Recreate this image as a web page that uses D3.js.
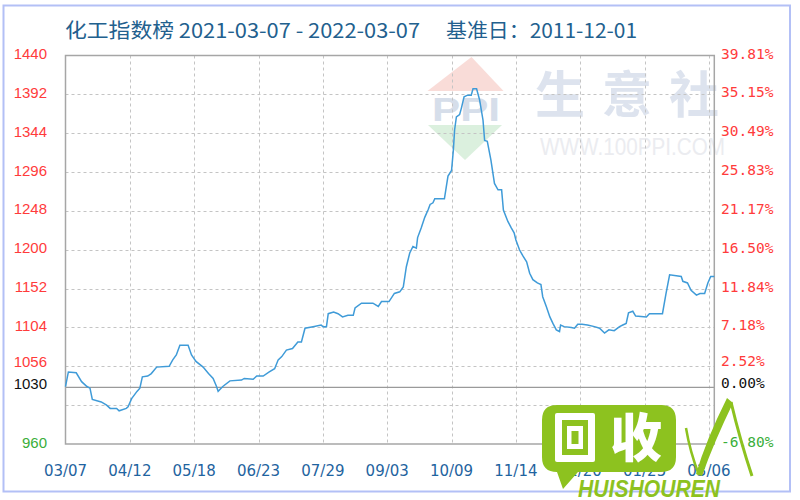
<!DOCTYPE html>
<html><head><meta charset="utf-8">
<script src="https://cdn.jsdelivr.net/npm/d3@7"></script>
<style>body{margin:0;background:#fff}</style>
</head><body>
<svg id="c" width="800" height="500"></svg>
<script>
// ---- data ----
const baseValue = 1030;
const yTickValues = [1440,1392,1344,1296,1248,1200,1152,1104,1056,1030,960];
const yGridValues = [1392,1344,1296,1248,1200,1152,1104,1056,1008];
const xTickDays = [0,36,72,108,144,180,216,252,288,324,360];
const xTickLabels = ["03/07","04/12","05/18","06/23","07/29","09/03","10/09","11/14","12/20","01/25","03/06"];
const days = [0,1.6,6,9,12,13.7,15,20,23,25,28.6,30,34,35,37,40,41.6,43,46,48,51,58,60,62,64,68.6,70.5,73,77,80,82.6,84.5,85.4,88,92,98.5,100,105,107,110.6,114,117,119,121,123.6,127,130,132,134,138.5,143,144,146,147,150,152.5,155,158,161,162,165.6,172,175,176.8,181,184,187,189,190.7,192.6,194.4,196.3,197,199,201,203,204,205.6,206.6,212,213,214,216,217,217.7,218.7,220.5,221.5,223,225,227,228,230,231.7,233.6,234.5,236,238,240,242,244,245,247.5,249.4,251,252,254,256,258,259.7,261.5,264,266,267,269,271,272.7,274.6,276.4,277,279,283,284.8,286.6,289,292,296,298.8,301.6,304,307,310,311.8,313.7,315,317.4,319,325,326.7,334,336,338,341.7,344.5,345.4,348,350,353,355,357.6,359.4,361,363];
const values = [1031,1049,1048,1037,1031,1029,1015,1012,1008,1004,1004,1001,1004,1006,1016,1025,1029,1043,1044,1047,1055,1056,1064,1070,1082,1082,1070,1062,1055,1047,1041,1031,1025,1031,1038,1039,1041,1040,1044,1044,1049,1053,1064,1068,1076,1078,1086,1086,1103,1105,1107,1105,1105,1121,1123,1121,1117,1119,1119,1128,1134,1134,1130,1136,1136,1146,1148,1154,1179,1196,1204,1202,1215,1227,1240,1250,1256,1258,1263,1263,1277,1291,1298,1323,1348,1364,1367,1375,1389,1391,1391,1399,1399,1385,1360,1335,1334,1311,1282,1274,1274,1249,1235,1227,1221,1212,1200,1192,1185,1171,1163,1159,1157,1142,1130,1117,1109,1101,1099,1107,1105,1104,1103,1108,1108,1107,1105,1103,1097,1101,1100,1105,1107,1109,1122,1124,1118,1117,1121,1121,1146,1169,1168,1167,1161,1159,1150,1144,1146,1146,1159,1167,1167];

const svg = d3.select("#c");
const L = 65.5, R = 714.3, T = 55.5, B = 444;
const x = d3.scaleLinear().domain([0, 363]).range([L, R]);
const y = d3.scaleLinear().domain([960, 1440]).range([B, T]);

// outer frame
svg.append("rect").attr("x",3.5).attr("y",5.5).attr("width",786.5).attr("height",486)
  .attr("fill","none").attr("stroke","#b3c0f6").attr("stroke-width",2);

// title
svg.append("text").attr("x",65).attr("y",38).attr("fill","#22608e")
  .attr("font-family","'Noto Sans CJK SC', sans-serif").attr("font-size",20)
  .attr("textLength",355).attr("lengthAdjust","spacingAndGlyphs")
  .text("化工指数榜 2021-03-07 - 2022-03-07");
svg.append("text").attr("x",446).attr("y",38).attr("fill","#22608e")
  .attr("font-family","'Noto Sans CJK SC', sans-serif").attr("font-size",20)
  .attr("textLength",191).attr("lengthAdjust","spacingAndGlyphs")
  .text("基准日：2011-12-01");

// watermark 100PPI
const wm = svg.append("g");
wm.append("path").attr("d",`M${x(0)+406},57 L${x(0)+438},91 L${x(0)+362},91 Z`).attr("fill","#f9dcd8");
wm.append("path").attr("d","M428,125 L502,125 L465,160 Z").attr("fill","#dbf0de");
wm.append("text").attr("x",432).attr("y",121).attr("font-family","'Liberation Sans', Arial, sans-serif")
  .attr("font-weight","bold").attr("font-size",33).attr("fill","#d6deea")
  .attr("textLength",68).attr("lengthAdjust","spacingAndGlyphs").text("PPI");
["生","意","社"].forEach((ch,i)=>{
  wm.append("text").attr("x",560+i*67).attr("y",113).attr("text-anchor","middle")
    .attr("font-family","'Noto Sans CJK SC', sans-serif").attr("font-weight","bold")
    .attr("font-size",50).attr("fill","#dde3ee").text(ch);
});
wm.append("text").attr("x",540).attr("y",155).attr("font-family","'Liberation Sans', Arial, sans-serif")
  .attr("font-size",24).attr("fill","#ebecf0")
  .attr("textLength",185).attr("lengthAdjust","spacingAndGlyphs").text("WWW.100PPI.COM");

// grid
const dash = "3,3";
svg.append("g").selectAll("line").data(yGridValues).join("line")
  .attr("x1",L).attr("x2",R).attr("y1",d=>Math.round(y(d))+0.5).attr("y2",d=>Math.round(y(d))+0.5)
  .attr("stroke","#c4c4c4").attr("stroke-dasharray",dash);
svg.append("g").selectAll("line").data(xTickDays.slice(1)).join("line")
  .attr("x1",d=>Math.round(x(d))+0.5).attr("x2",d=>Math.round(x(d))+0.5).attr("y1",T).attr("y2",B)
  .attr("stroke","#c4c4c4").attr("stroke-dasharray",dash);

// base line
svg.append("line").attr("x1",L).attr("x2",R).attr("y1",y(baseValue)).attr("y2",y(baseValue))
  .attr("stroke","#9a9a9a").attr("stroke-width",1.3);

// plot border
svg.append("rect").attr("x",L).attr("y",T).attr("width",R-L).attr("height",B-T)
  .attr("fill","none").attr("stroke","#a6a6a6").attr("stroke-width",1.5);

// line
const pts = days.map((d,i)=>[d, values[i]]);
svg.append("path").datum(pts)
  .attr("d", d3.line().x(d=>x(d[0])).y(d=>y(d[1])))
  .attr("fill","none").attr("stroke","#3f9bd8").attr("stroke-width",1.5);

// left axis labels
const colorFor = v => v > baseValue ? "#ff3b3b" : (v === baseValue ? "#111" : "#3aae3a");
const yOff = {1056:-3, 1030:-2};
svg.append("g").selectAll("text").data(yTickValues).join("text")
  .attr("x",47).attr("y",d=>y(d)-2+(yOff[d]||0)).attr("text-anchor","end").attr("dominant-baseline","central")
  .attr("font-family","'Liberation Sans', Arial, sans-serif").attr("font-size",15)
  .attr("fill",colorFor).text(d=>d);

// right axis labels
svg.append("g").selectAll("text").data(yTickValues).join("text")
  .attr("x",721).attr("y",d=>y(d)-2+(yOff[d]||0)).attr("dominant-baseline","central")
  .attr("font-family","'DejaVu Sans Mono', monospace").attr("font-size",14.5)
  .attr("fill",colorFor).text(d=>((d-baseValue)/baseValue*100).toFixed(2)+"%");

// x axis labels
svg.append("g").selectAll("text").data(xTickDays).join("text")
  .attr("x",d=>x(d)).attr("y",471).attr("text-anchor","middle").attr("dominant-baseline","central")
  .attr("font-family","'DejaVu Sans', Verdana, sans-serif").attr("font-size",15)
  .attr("fill","#1f64a0").text((d,i)=>xTickLabels[i]);

// HUISHOUREN logo (watermark)
const lg = svg.append("g");
const G = "#8dc21f";
lg.append("path").attr("d","M557,405 H661 Q676,405 676,420 V457 Q676,472 661,472 H578 L563,489 L557,472 Q542,472 542,457 V420 Q542,405 557,405 Z").attr("fill",G);
lg.append("rect").attr("x",555).attr("y",413).attr("width",40).attr("height",49).attr("rx",2).attr("fill","#fff");
lg.append("rect").attr("x",562).attr("y",420).attr("width",26).attr("height",35).attr("fill",G);
lg.append("rect").attr("x",567).attr("y",426).attr("width",16).attr("height",23).attr("fill","#fff");
lg.append("rect").attr("x",571.5).attr("y",431).attr("width",7).attr("height",13).attr("fill",G);
lg.append("text").attr("x",636).attr("y",457).attr("text-anchor","middle")
  .attr("font-family","'Noto Sans CJK SC', sans-serif").attr("font-weight",900)
  .attr("font-size",52).attr("fill","#fff").text("收");
lg.append("text").attr("x",578).attr("y",497).attr("font-family","'Liberation Sans', Arial, sans-serif")
  .attr("font-weight","bold").attr("font-style","italic").attr("font-size",24).attr("fill",G)
  .attr("textLength",142).attr("lengthAdjust","spacingAndGlyphs").text("HUISHOUREN");
lg.append("path").attr("d","M696,474 Q706,440 727,398 L733,403 Q714,442 702,476 Z").attr("fill",G);
lg.append("path").attr("d","M686,428 Q690,452 699,475").attr("fill","none").attr("stroke",G).attr("stroke-width",2.5);
lg.append("path").attr("d","M731,402 Q740,440 752,476").attr("fill","none").attr("stroke",G).attr("stroke-width",3);
</script>
</body></html>
